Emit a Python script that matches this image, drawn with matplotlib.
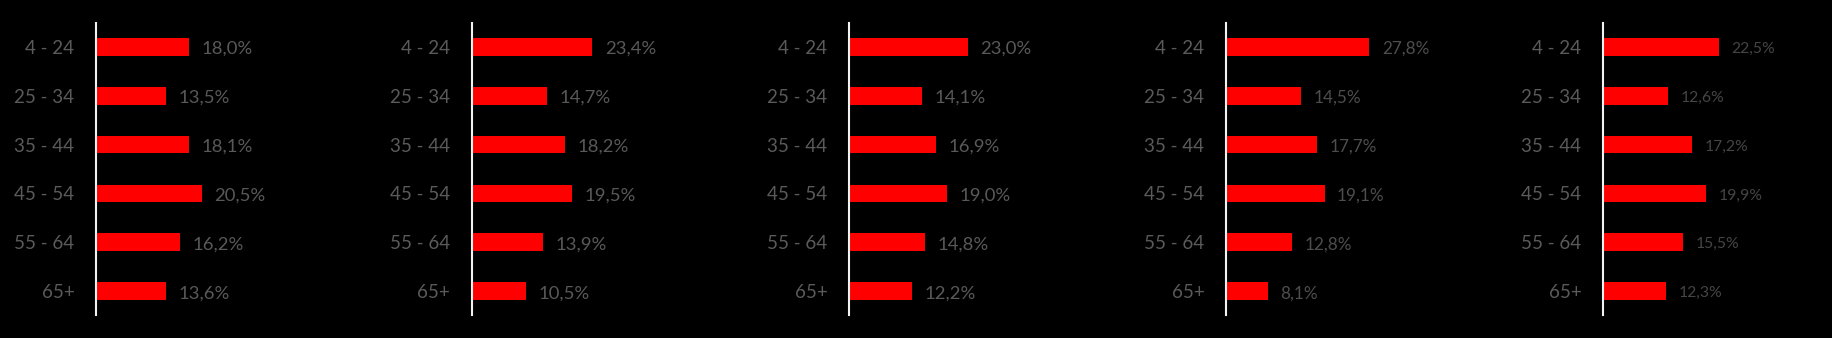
import matplotlib
matplotlib.use('Agg')
import matplotlib.pyplot as plt
from matplotlib.transforms import ScaledTranslation

plt.rcParams['font.family'] = ['Lato', 'DejaVu Sans']

ages = ['4 - 24', '25 - 34', '35 - 44', '45 - 54', '55 - 64', '65+']
panel1 = [18.0, 13.5, 18.1, 20.5, 16.2, 13.6]
panel2 = [23.4, 14.7, 18.2, 19.5, 13.9, 10.5]
panel3 = [23.0, 14.1, 16.9, 19.0, 14.8, 12.2]
panel4 = [27.8, 14.5, 17.7, 19.1, 12.8, 8.1]
panel5 = [22.5, 12.6, 17.2, 19.9, 15.5, 12.3]
panels = [panel1, panel2, panel3, panel4, panel5]

W, H = 1832, 338
fig = plt.figure(figsize=(W / 100, H / 100), dpi=100, facecolor='black')

axis_x = [96, 471.5, 849, 1226, 1603]
val_size = [13.3, 13.3, 13.3, 12.3, 11.3]
val_color = ['#595959', '#595959', '#595959', '#4d4d4d', '#454545']
px_per_pct = 5.16
ax_w = 200
top, bottom = 23, 315
shift = ScaledTranslation(0, -2 / 100, fig.dpi_scale_trans)

for i, vals in enumerate(panels):
    ax = fig.add_axes([axis_x[i] / W, 1 - bottom / H, ax_w / W, (bottom - top) / H])
    ax.set_facecolor('black')
    ypos = list(range(len(ages)))
    ax.barh(ypos, vals, height=0.36, color='#ff0000')
    ax.set_xlim(0, ax_w / px_per_pct)
    ax.set_ylim(5.49, -0.49)
    ax.set_yticks(ypos)
    ax.set_yticklabels(ages, fontsize=13.5, color='#5a5a5a')
    for lab in ax.get_yticklabels():
        lab.set_transform(lab.get_transform() + shift)
    ax.tick_params(axis='y', length=0, pad=15.5)
    ax.set_xticks([])
    for s in ['top', 'right', 'bottom']:
        ax.spines[s].set_visible(False)
    ax.spines['left'].set_color('#f2f2f2')
    ax.spines['left'].set_linewidth(1.5)
    for y, v in zip(ypos, vals):
        ax.annotate(f'{v:.1f}%'.replace('.', ','), (v, y), xytext=(9, -1.5),
                    textcoords='offset points', va='center', ha='left',
                    fontsize=val_size[i], color=val_color[i])

fig.savefig('out.png', dpi=100, facecolor='black')
